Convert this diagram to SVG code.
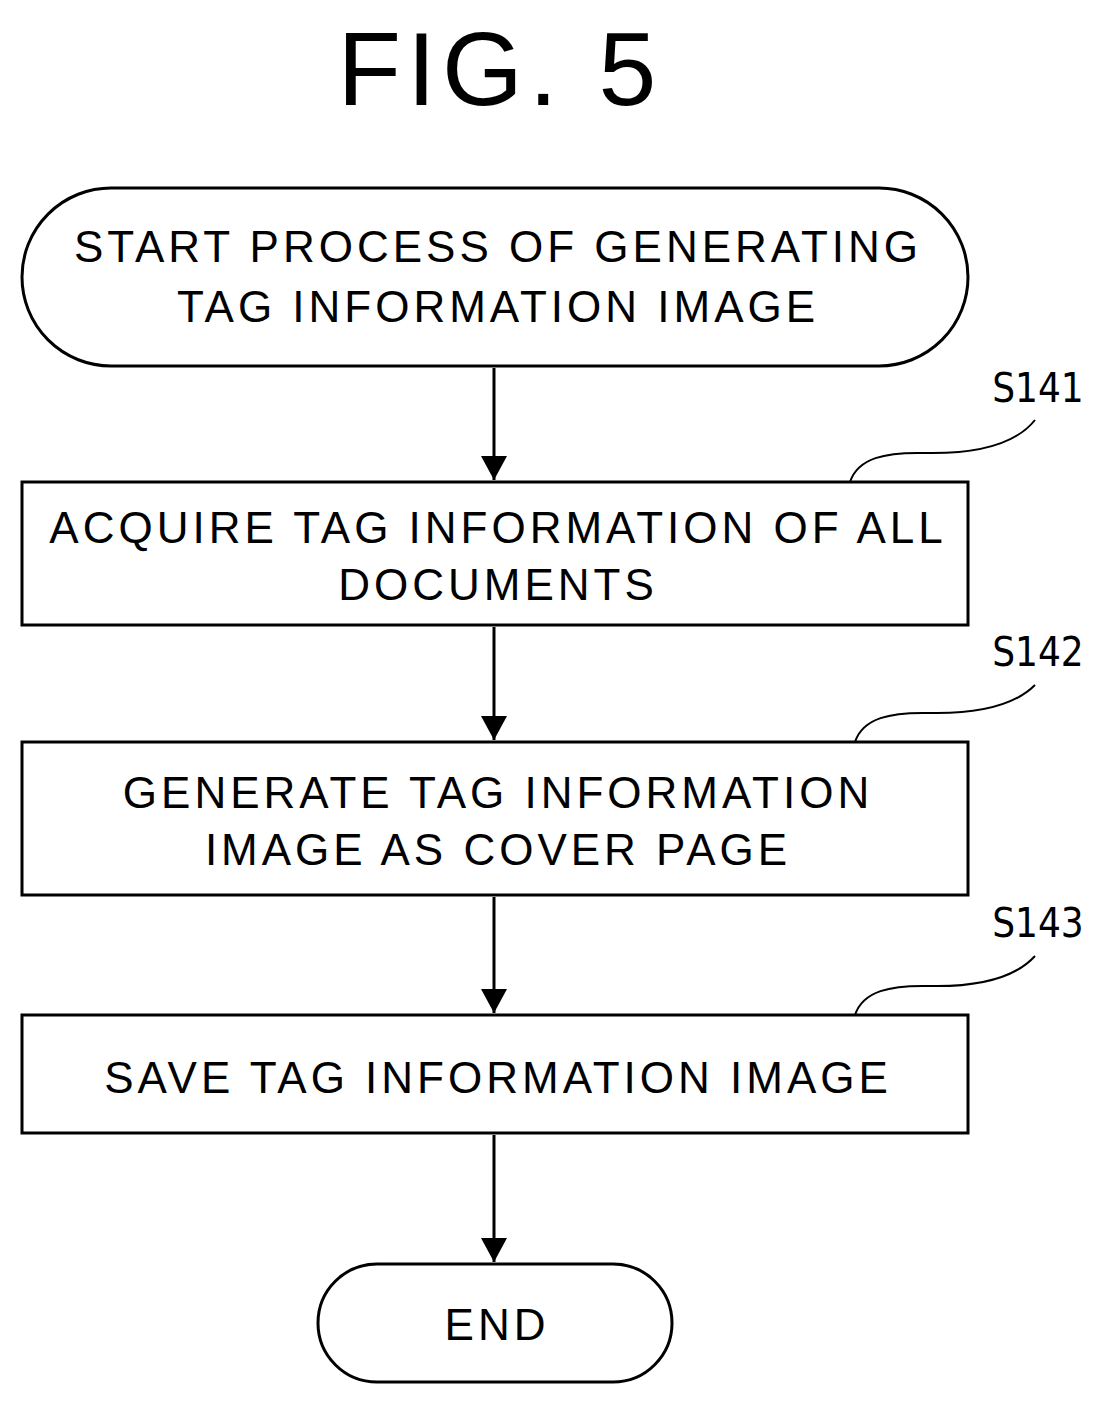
<svg xmlns="http://www.w3.org/2000/svg" width="1116" height="1404" viewBox="0 0 1116 1404">
<defs>
<style>
.n{fill:#fff;stroke:#000;stroke-width:3}
.t{font-family:"Liberation Sans",Arial,sans-serif;font-size:44px;text-anchor:middle;fill:#000;letter-spacing:4px}
.s{font-family:"DejaVu Sans Condensed","Liberation Sans Narrow",sans-serif;font-size:40px;text-anchor:middle;fill:#000}
.c{stroke:#000;stroke-width:3;fill:none}
.l{stroke:#000;stroke-width:2;fill:none}
</style>
<marker id="ah" markerWidth="24" markerHeight="26" refX="24" refY="13" orient="auto" markerUnits="userSpaceOnUse">
<path d="M0,0 L24,13 L0,26 Z" fill="#000"/>
</marker>
</defs>
<rect width="1116" height="1404" fill="#fff"/>
<text x="500" y="105" style="font-family:'Liberation Sans',Arial,sans-serif;font-size:104px;text-anchor:middle;letter-spacing:6px">FIG. 5</text>
<g id="connectors">
<line class="c" x1="494" y1="368" x2="494" y2="480" marker-end="url(#ah)"/>
<line class="c" x1="494" y1="627" x2="494" y2="740" marker-end="url(#ah)"/>
<line class="c" x1="494" y1="897" x2="494" y2="1013" marker-end="url(#ah)"/>
<line class="c" x1="494" y1="1135" x2="494" y2="1262" marker-end="url(#ah)"/>
</g>
<g id="start">
<rect class="n" x="22" y="188" width="946" height="178" rx="89"/>
<text class="t" x="498" y="262">START PROCESS OF GENERATING</text>
<text class="t" x="498" y="322">TAG INFORMATION IMAGE</text>
</g>
<g id="s141">
<rect class="n" x="22" y="482" width="946" height="143"/>
<text class="t" x="498" y="543">ACQUIRE TAG INFORMATION OF ALL</text>
<text class="t" x="498" y="600">DOCUMENTS</text>
<text class="s" x="1038" y="402">S141</text>
<path class="l" d="M850,482 C858,458 885,452 925,453 C975,454 1015,445 1035,420"/>
</g>
<g id="s142">
<rect class="n" x="22" y="742" width="946" height="153"/>
<text class="t" x="498" y="808">GENERATE TAG INFORMATION</text>
<text class="t" x="498" y="865">IMAGE AS COVER PAGE</text>
<text class="s" x="1038" y="666">S142</text>
<path class="l" d="M855,742 C863,718 890,712 930,713 C980,714 1015,705 1035,685"/>
</g>
<g id="s143">
<rect class="n" x="22" y="1015" width="946" height="118"/>
<text class="t" x="498" y="1093">SAVE TAG INFORMATION IMAGE</text>
<text class="s" x="1038" y="937">S143</text>
<path class="l" d="M855,1015 C863,991 890,985 930,986 C980,987 1015,978 1035,956"/>
</g>
<g id="end">
<rect class="n" x="318" y="1264" width="354" height="118" rx="59"/>
<text class="t" x="497" y="1340">END</text>
</g>
</svg>
